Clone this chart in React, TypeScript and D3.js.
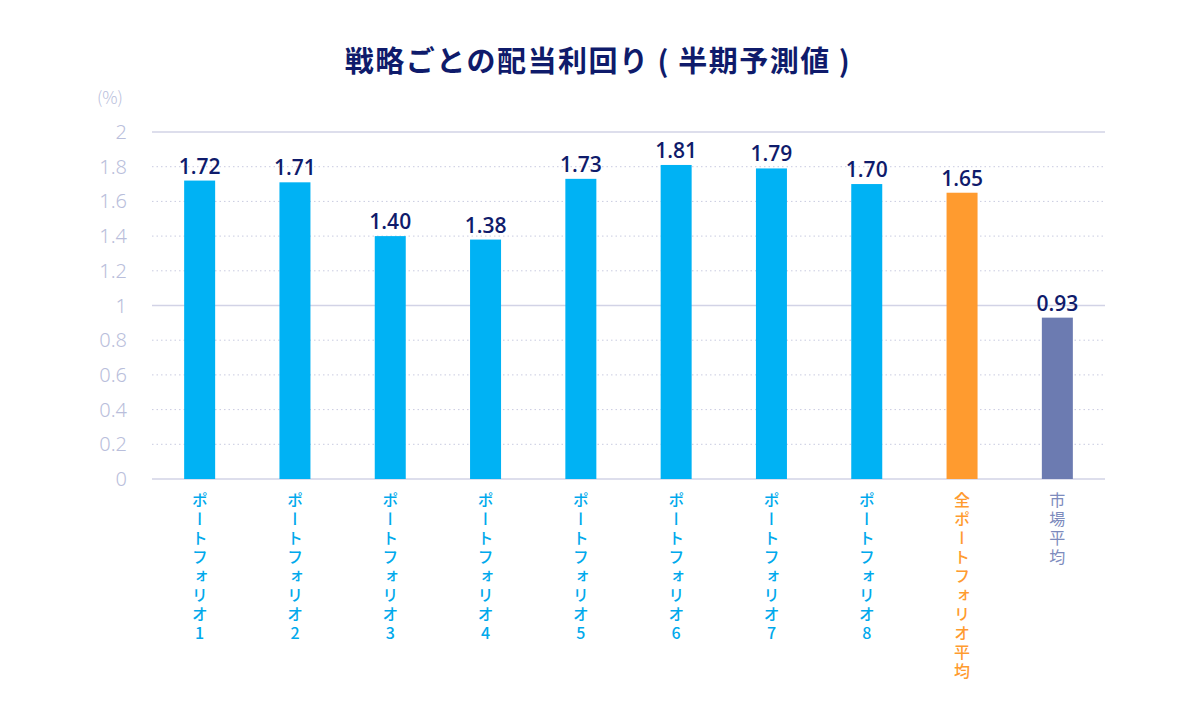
import React from "react";
import * as d3 from "d3";

const categories = ["ポートフォリオ1","ポートフォリオ2","ポートフォリオ3","ポートフォリオ4","ポートフォリオ5","ポートフォリオ6","ポートフォリオ7","ポートフォリオ8","全ポートフォリオ平均","市場平均"];
const values = [1.72, 1.71, 1.40, 1.38, 1.73, 1.81, 1.79, 1.70, 1.65, 0.93];
const kinds = ["p","p","p","p","p","p","p","p","avg","mkt"];
const yTicks = [0, 0.2, 0.4, 0.6, 0.8, 1, 1.2, 1.4, 1.6, 1.8, 2];
const title = "戦略ごとの配当利回り ( 半期予測値 )";
const unit = "(%)";

const colors: Record<string, string> = { p: "#00b2f4", avg: "#ff9b2f", mkt: "#6c7bb1" };
const labelColors: Record<string, string> = { p: "#00a9ec", avg: "#ff9b2f", mkt: "#7d8bbd" };
const FONT = "'Noto Sans CJK JP', 'Noto Sans', sans-serif";

export default function App() {
  const W = 1200, H = 723;
  const left = 152, right = 1105, top = 132, bottom = 479;
  const x = d3.scaleBand<string>().domain(categories).range([left, right]);
  const y = d3.scaleLinear().domain([0, 2]).range([bottom, top]);
  const bw = 31;
  return (
    <svg width={W} height={H} style={{ position: "absolute", left: 0, top: 0, background: "#fff" }} fontFamily={FONT}>
      <text x={598} y={72} textAnchor="middle" fontSize={29} fontWeight={700} fill="#0f1b6b" letterSpacing={1.5}>{title}</text>
      <text x={110} y={104} textAnchor="middle" fontSize={17} fill="#b9bedb" fontWeight={300}>{unit}</text>
      {yTicks.map((t) => {
        const solid = t === 0 || t === 1 || t === 2;
        return (
          <g key={t}>
            <line x1={left} x2={right} y1={y(t)} y2={y(t)} stroke={solid ? "#d2d3e6" : "#c9cbe0"} strokeWidth={solid ? 1.5 : 1} strokeDasharray={solid ? undefined : "1.5 3"} />
            <text x={127} y={y(t) + 7} textAnchor="end" fontSize={20} fill="#b9bedb" fontFamily="'Noto Sans', sans-serif" fontWeight={300}>{String(t)}</text>
          </g>
        );
      })}
      {categories.map((c, i) => {
        const cx = (x(c) as number) + x.bandwidth() / 2;
        const v = values[i];
        return (
          <g key={c}>
            <rect x={cx - bw / 2} y={y(v)} width={bw} height={bottom - y(v)} fill={colors[kinds[i]]} />
            <text x={cx} y={y(v) - 7} textAnchor="middle" fontSize={21} fontWeight={600} fill="#0f1b6b" fontFamily="'Open Sans', sans-serif">{v.toFixed(2)}</text>
            <text x={cx} y={492} fontSize={16} fontWeight={kinds[i] === "mkt" ? 400 : 500} fill={labelColors[kinds[i]]}
              style={{ writingMode: "vertical-rl", textOrientation: "upright" } as any} letterSpacing={3}>{c}</text>
          </g>
        );
      })}
    </svg>
  );
}
